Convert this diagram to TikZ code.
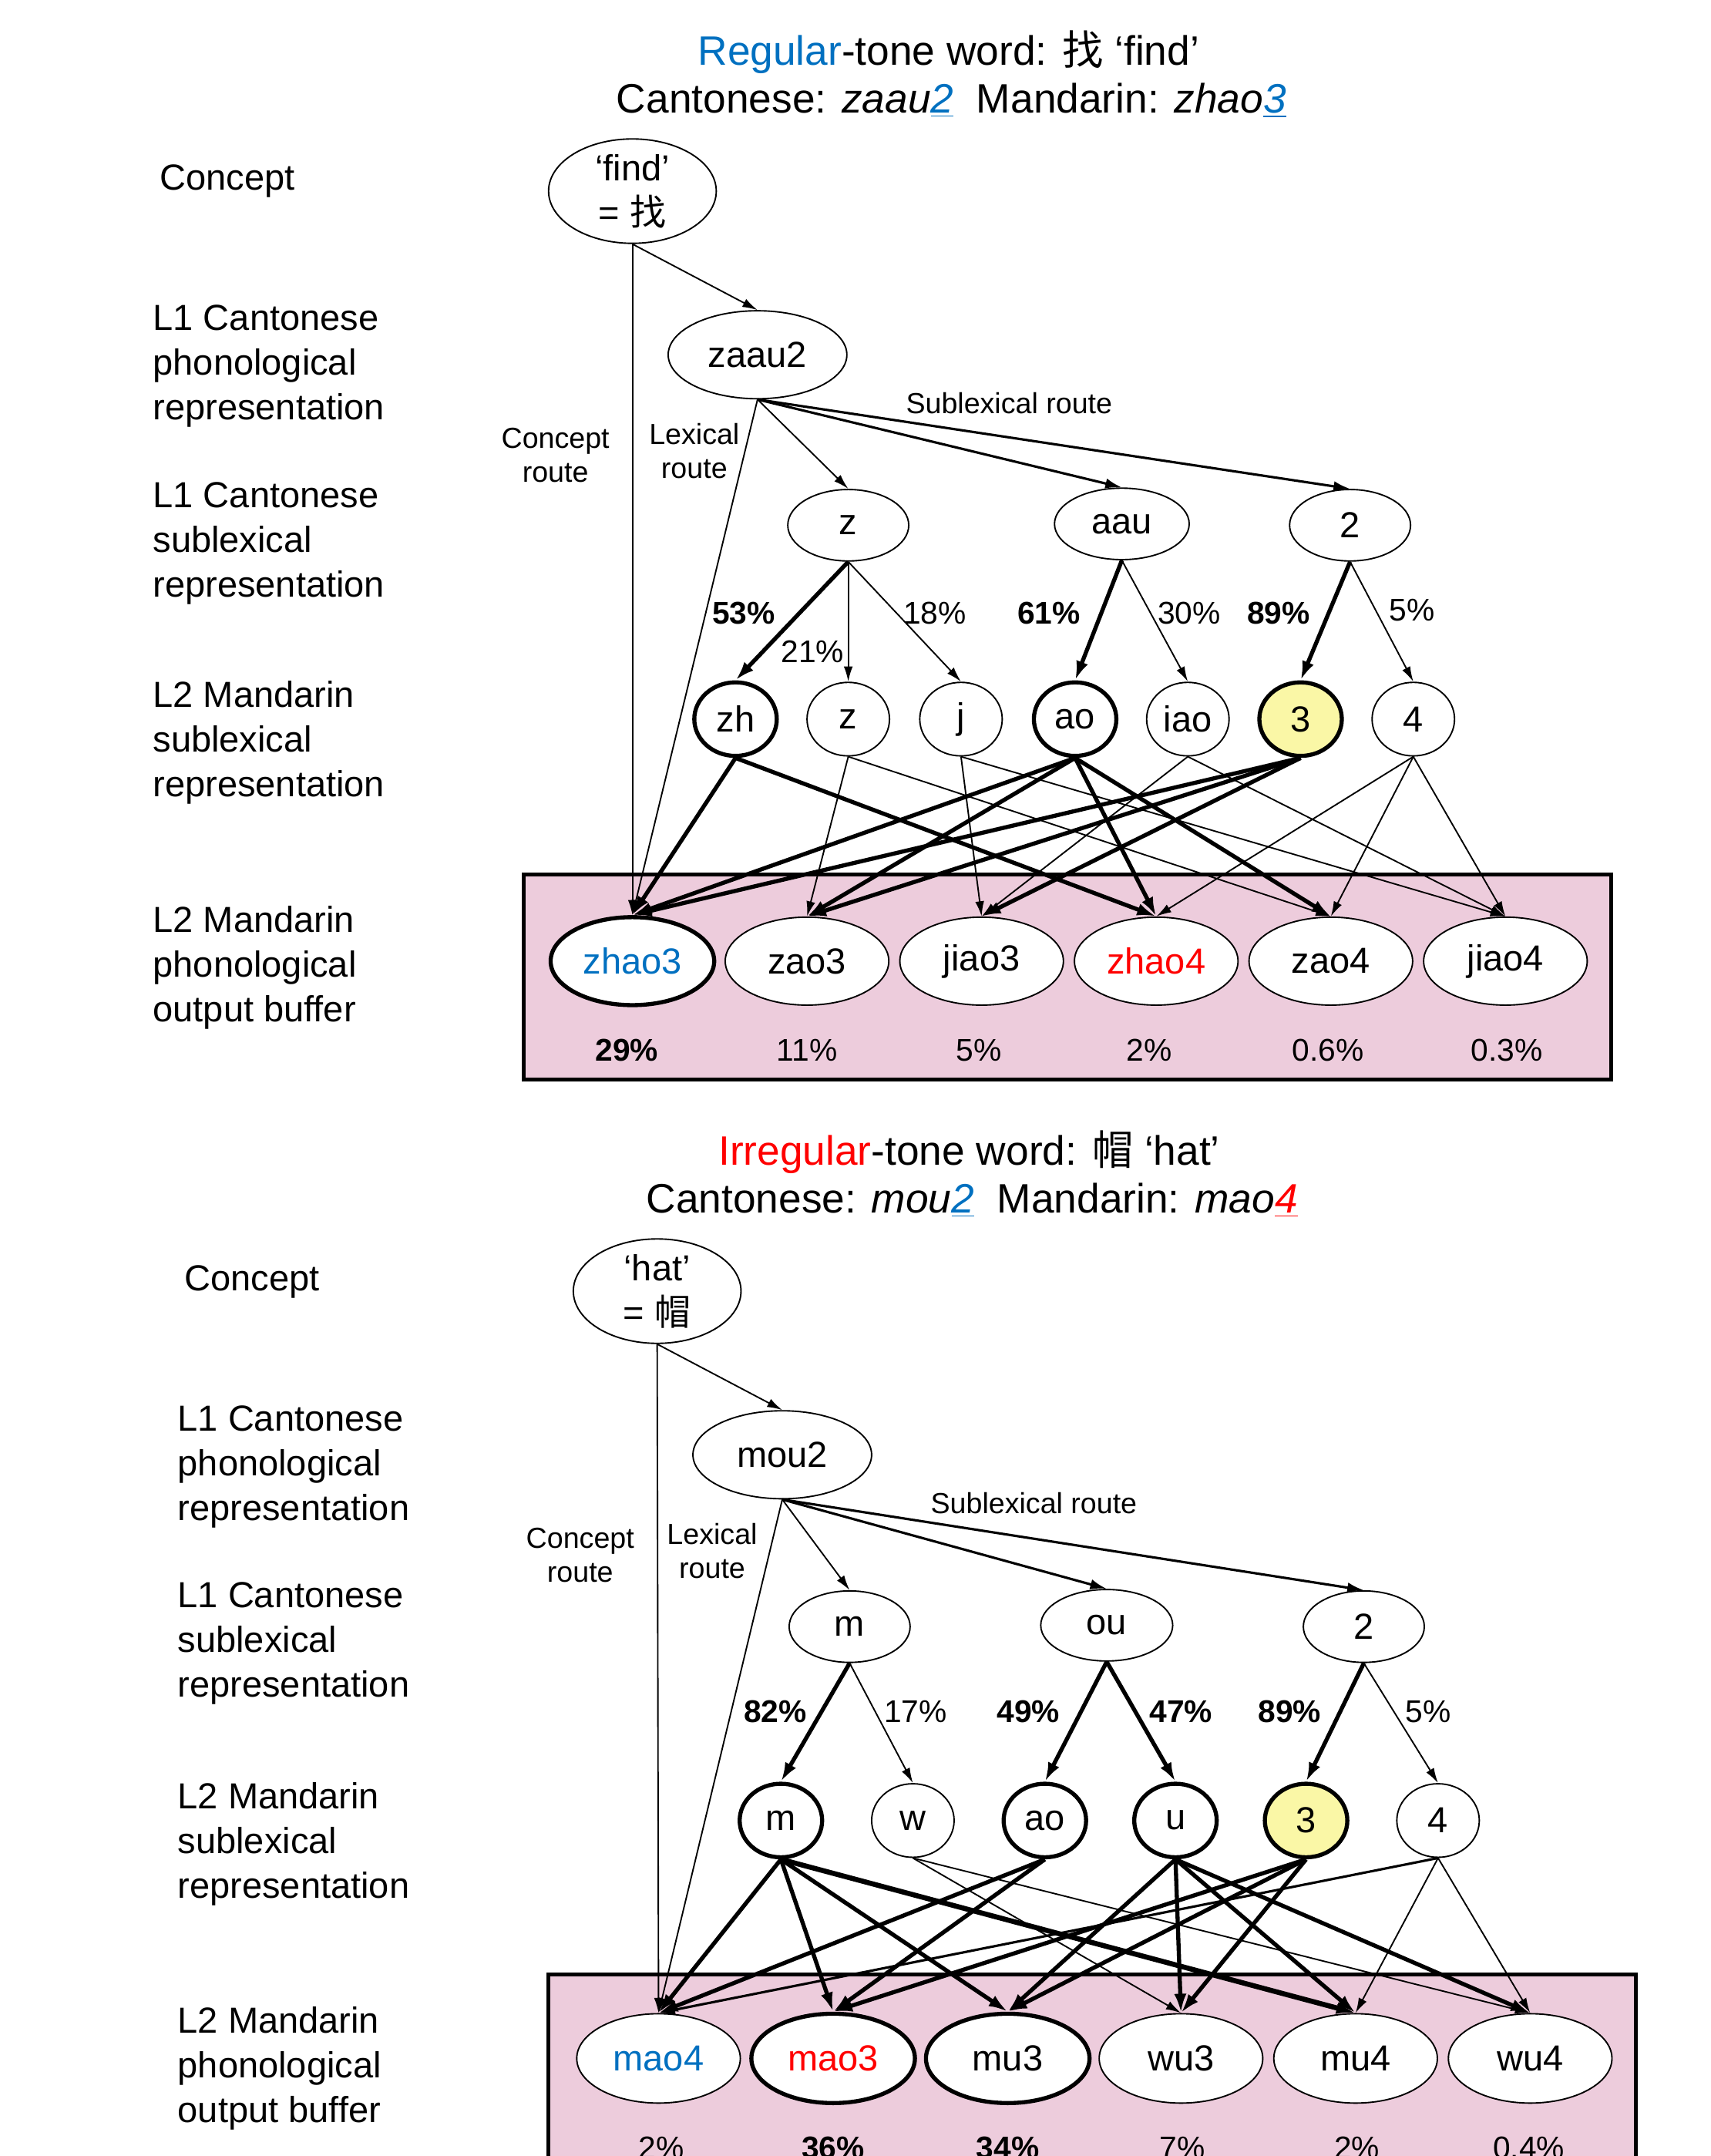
\documentclass[tikz,border=0pt]{standalone}
\usepackage{fontspec}
\setmainfont{Liberation Sans}
\newfontfamily\cjk{Noto Sans CJK SC}
\usepackage{xcolor}
\usepackage{tikz}
\usetikzlibrary{positioning, calc, shapes.geometric, arrows.meta}

\definecolor{tblue}{RGB}{0,112,192}
\definecolor{tred}{RGB}{255,0,0}
\definecolor{tyellow}{RGB}{250,247,166}
\definecolor{tpink}{RGB}{237,204,220}

\begin{document}
\begin{tikzpicture}[x=0.02cm, y=-0.02cm,
        every node/.style={font=\fontsize{15}{18.5}\selectfont},
        bubble/.style={ellipse, draw, fill=white, line width=0.6pt, inner sep=0pt, align=center},
        concept/.style={bubble, minimum width=2.44cm, minimum height=1.46cm},
        cword/.style={bubble, minimum width=2.6cm, minimum height=1.28cm},
        cpart/.style={bubble, minimum width=1.76cm, minimum height=1.04cm},
        mpart/.style={bubble, minimum width=1.2cm, minimum height=1.07cm},
        mword/.style={bubble, minimum width=2.38cm, minimum height=1.28cm},
        heavy/.style={line width=1.7pt},
        layer/.style={anchor=west, align=left, inner sep=0pt},
        headline/.style={font=\fontsize{17}{21}\selectfont},
        route/.style={font=\fontsize{12}{14.2}\selectfont, align=center},
        pct/.style={font=\fontsize{13}{15}\selectfont},
        bpct/.style={font=\fontsize{13}{15}\selectfont\bfseries},
        wlink/.style={line width=0.6pt, -{Latex[length=2.2mm,width=1.3mm]}},
        mlink/.style={line width=1pt, -{Latex[length=2.4mm,width=1.5mm]}},
        slink/.style={line width=1.7pt, -{Latex[length=2.8mm,width=1.8mm]}},
        buffer/.style={fill=tpink, draw, line width=1.5pt}]

        \useasboundingbox (0,0) rectangle (1244,1568);
        \clip (0,0) rectangle (1244,1568);

        % ---------- regular-tone word ----------
        \node[headline] (headA) at (690,38) {\textcolor{tblue}{Regular}-tone word: {\cjk 找} `find'};
        \node[headline] (subA) at (692,73) {Cantonese: \textit{zaau\textcolor{tblue}{\underline{2}}}\ \ Mandarin: \textit{zhao\textcolor{tblue}{\underline{3}}}};

        % levels
        \node[layer] (lconA) at (116,132) {Concept};
        \node[layer] (lphonA) at (111,266) {L1 Cantonese\\phonological\\representation};
        \node[layer] (lsubA) at (111,395) {L1 Cantonese\\sublexical\\representation};
        \node[layer] (msubA) at (111,540) {L2 Mandarin\\sublexical\\representation};
        \node[layer] (moutA) at (111,704) {L2 Mandarin\\phonological\\output buffer};

        % the buffer
        \draw[buffer] (381,636) rectangle (1172,785);

        \node[concept] (conA) at (460,139) {`find'\\= {\cjk 找}};
        \node[cword] (zaau) at (551,258) {zaau2};

        \node[cpart] (cz) at (617,382) {z};
        \node[cpart, minimum width=1.96cm] (caau) at (816,381) {aau};
        \node[cpart] (ctwoA) at (982,382) {2};

        \node[mpart, heavy] (mzh) at (535,523) {zh};
        \node[mpart] (mz) at (617,523) {z};
        \node[mpart] (mj) at (699,523) {j};
        \node[mpart, heavy] (maoA) at (782,523) {ao};
        \node[mpart] (miao) at (864,523) {iao};
        \node[mpart, heavy, fill=tyellow] (mthreeA) at (946,523) {3};
        \node[mpart] (mfourA) at (1028,523) {4};

        \node[mword, heavy, text=tblue] (zhao3) at (460,699) {zhao3};
        \node[mword] (zao3) at (587,699) {zao3};
        \node[mword] (jiao3) at (714,699) {jiao3};
        \node[mword, text=tred] (zhao4) at (841,699) {zhao4};
        \node[mword] (zao4) at (968,699) {zao4};
        \node[mword] (jiao4) at (1095,699) {jiao4};

        \node[bpct] (pzhao3) at (456,764) {29\%};
        \node[pct] (pzao3) at (587,764) {11\%};
        \node[pct] (pjiao3) at (712,764) {5\%};
        \node[pct] (pzhao4) at (836,764) {2\%};
        \node[pct] (pzao4) at (966,764) {0.6\%};
        \node[pct] (pjiao4) at (1096,764) {0.3\%};

        % routes
        \node[route] (rconA) at (404,331) {Concept\\route};
        \node[route] (rlexA) at (505,328) {Lexical\\route};
        \node[route] (rsubA) at (734,293) {Sublexical route};

        \draw[wlink] (conA.south) -- (zaau.north);
        \draw[wlink] (conA.south) -- (zhao3.north);
        \draw[wlink] (zaau.south) -- (zhao3.north);
        \draw[wlink] (zaau.south) -- (cz.north);
        \draw[mlink] (zaau.south) -- (caau.north);
        \draw[mlink] (zaau.south) -- (ctwoA.north);

        \draw[slink] (cz.south) -- (mzh.north);
        \draw[wlink] (cz.south) -- (mz.north);
        \draw[wlink] (cz.south) -- (mj.north);
        \draw[slink] (caau.south) -- (maoA.north);
        \draw[wlink] (caau.south) -- (miao.north);
        \draw[slink] (ctwoA.south) -- (mthreeA.north);
        \draw[wlink] (ctwoA.south) -- (mfourA.north);

        \node[bpct] at (541,446) {53\%};
        \node[pct] at (591,474) {21\%};
        \node[pct] at (680,446) {18\%};
        \node[bpct] at (763,446) {61\%};
        \node[pct] at (865,446) {30\%};
        \node[bpct] at (930,446) {89\%};
        \node[pct] at (1027,444) {5\%};

        \draw[slink] (mzh.south) -- (zhao3.north);
        \draw[slink] (mzh.south) -- (zhao4.north);
        \draw[wlink] (mz.south) -- (zao3.north);
        \draw[wlink] (mz.south) -- (zao4.north);
        \draw[wlink] (mj.south) -- (jiao3.north);
        \draw[wlink] (mj.south) -- (jiao4.north);
        \draw[slink] (maoA.south) -- (zhao3.north);
        \draw[slink] (maoA.south) -- (zao3.north);
        \draw[slink] (maoA.south) -- (zhao4.north);
        \draw[slink] (maoA.south) -- (zao4.north);
        \draw[wlink] (miao.south) -- (jiao3.north);
        \draw[wlink] (miao.south) -- (jiao4.north);
        \draw[slink] (mthreeA.south) -- (zhao3.north);
        \draw[slink] (mthreeA.south) -- (zao3.north);
        \draw[slink] (mthreeA.south) -- (jiao3.north);
        \draw[wlink] (mfourA.south) -- (zhao4.north);
        \draw[wlink] (mfourA.south) -- (zao4.north);
        \draw[wlink] (mfourA.south) -- (jiao4.north);

        % ---------- irregular-tone word ----------
        \node[headline] (headB) at (705,838) {\textcolor{tred}{Irregular}-tone word: {\cjk 帽} `hat'};
        \node[headline] (subB) at (707,873) {Cantonese: \textit{mou\textcolor{tblue}{\underline{2}}}\ \ Mandarin: \textit{mao\textcolor{tred}{\underline{4}}}};

        % levels
        \node[layer] (lconB) at (134,932) {Concept};
        \node[layer] (lphonB) at (129,1067) {L1 Cantonese\\phonological\\representation};
        \node[layer] (lsubB) at (129,1195) {L1 Cantonese\\sublexical\\representation};
        \node[layer] (msubB) at (129,1341) {L2 Mandarin\\sublexical\\representation};
        \node[layer] (moutB) at (129,1504) {L2 Mandarin\\phonological\\output buffer};

        % the buffer
        \draw[buffer] (399,1436) rectangle (1190,1620);

        \node[concept] (conB) at (478,939) {`hat'\\= {\cjk 帽}};
        \node[cword] (mou2) at (569,1058) {mou2};

        \node[cpart] (cm) at (618,1183) {m};
        \node[cpart, minimum width=1.92cm] (cou) at (805,1182) {ou};
        \node[cpart] (ctwoB) at (992,1183) {2};

        \node[mpart, heavy] (mm) at (568,1324) {m};
        \node[mpart] (mw) at (664,1324) {w};
        \node[mpart, heavy] (maoB) at (760,1324) {ao};
        \node[mpart, heavy] (mu) at (855,1324) {u};
        \node[mpart, heavy, fill=tyellow] (mthreeB) at (950,1324) {3};
        \node[mpart] (mfourB) at (1046,1324) {4};

        \node[mword, minimum height=1.3cm, text=tblue] (mao4) at (479,1497) {mao4};
        \node[mword, minimum height=1.3cm, heavy, text=tred] (mao3) at (606,1497) {mao3};
        \node[mword, minimum height=1.3cm, heavy] (mu3) at (733,1497) {mu3};
        \node[mword, minimum height=1.3cm] (wu3) at (859,1497) {wu3};
        \node[mword, minimum height=1.3cm] (mu4) at (986,1497) {mu4};
        \node[mword, minimum height=1.3cm] (wu4) at (1113,1497) {wu4};

        \node[pct] (pmao4) at (481,1562) {2\%};
        \node[bpct] (pmao3) at (606,1562) {36\%};
        \node[bpct] (pmu3) at (733,1562) {34\%};
        \node[pct] (pwu3) at (860,1562) {7\%};
        \node[pct] (pmu4) at (987,1562) {2\%};
        \node[pct] (pwu4) at (1112,1562) {0.4\%};

        % routes
        \node[route] (rconB) at (422,1131) {Concept\\route};
        \node[route] (rlexB) at (518,1128) {Lexical\\route};
        \node[route] (rsubB) at (752,1093) {Sublexical route};

        \draw[wlink] (conB.south) -- (mou2.north);
        \draw[wlink] (conB.south) -- (mao4.north);
        \draw[wlink] (mou2.south) -- (mao4.north);
        \draw[wlink] (mou2.south) -- (cm.north);
        \draw[mlink] (mou2.south) -- (cou.north);
        \draw[mlink] (mou2.south) -- (ctwoB.north);

        \draw[slink] (cm.south) -- (mm.north);
        \draw[wlink] (cm.south) -- (mw.north);
        \draw[slink] (cou.south) -- (maoB.north);
        \draw[slink] (cou.south) -- (mu.north);
        \draw[slink] (ctwoB.south) -- (mthreeB.north);
        \draw[wlink] (ctwoB.south) -- (mfourB.north);

        \node[bpct] at (564,1245) {82\%};
        \node[pct] at (666,1245) {17\%};
        \node[bpct] at (748,1245) {49\%};
        \node[bpct] at (859,1245) {47\%};
        \node[bpct] at (938,1245) {89\%};
        \node[pct] at (1039,1245) {5\%};

        \draw[slink] (mm.south) -- (mao4.north);
        \draw[slink] (mm.south) -- (mao3.north);
        \draw[slink] (mm.south) -- (mu3.north);
        \draw[slink, line width=2.1pt] (mm.south) -- (mu4.north);
        \draw[wlink] (mw.south) -- (wu3.north);
        \draw[wlink] (mw.south) -- (wu4.north);
        \draw[slink] (maoB.south) -- (mao4.north);
        \draw[slink] (maoB.south) -- (mao3.north);
        \draw[slink] (mu.south) -- (mu3.north);
        \draw[slink] (mu.south) -- (wu3.north);
        \draw[slink] (mu.south) -- (mu4.north);
        \draw[slink] (mu.south) -- (wu4.north);
        \draw[slink] (mthreeB.south) -- (mao3.north);
        \draw[slink] (mthreeB.south) -- (mu3.north);
        \draw[slink] (mthreeB.south) -- (wu3.north);
        \draw[mlink] (mfourB.south) -- (mao4.north);
        \draw[wlink] (mfourB.south) -- (mu4.north);
        \draw[wlink] (mfourB.south) -- (wu4.north);
\end{tikzpicture}
\end{document}
